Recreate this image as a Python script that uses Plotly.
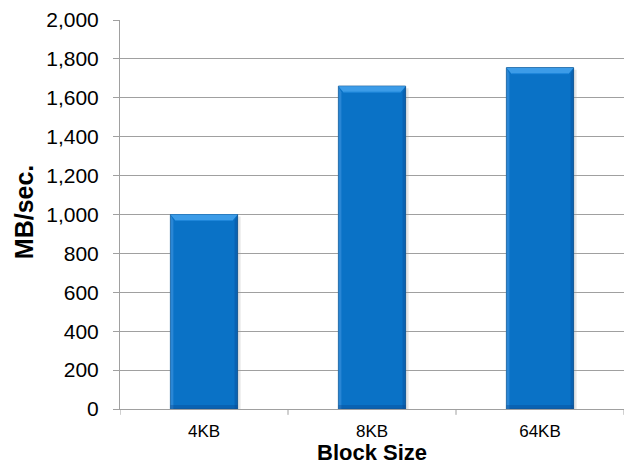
import plotly.graph_objects as go

block_sizes = ["4KB", "8KB", "64KB"]
throughput_mb_s = [1000, 1660, 1755]
y_tick_values = [0, 200, 400, 600, 800, 1000, 1200, 1400, 1600, 1800, 2000]

BAR_WIDTH = 0.4
Y_MAX = 2000
MARGIN = dict(l=120, r=18, t=20, b=57)
PLOT_H_PX = 466 - MARGIN["t"] - MARGIN["b"]
PLOT_W_PX = 642 - MARGIN["l"] - MARGIN["r"]
units_per_px_y = Y_MAX / PLOT_H_PX
units_per_px_x = 3 / PLOT_W_PX

fig = go.Figure()
fig.add_trace(go.Bar(
    x=list(range(len(block_sizes))),
    y=throughput_mb_s,
    width=BAR_WIDTH,
    marker=dict(color="#0A72C6", line=dict(color="#1A5E98", width=1)),
    hoverinfo="y",
))

# bevel highlights and soft drop shadow around each bar
for i, v in enumerate(throughput_mb_s):
    x0, x1 = i - BAR_WIDTH / 2, i + BAR_WIDTH / 2
    dx = 5 * units_per_px_x
    dy = 6 * units_per_px_y
    sx = 3 * units_per_px_x
    # shadow
    fig.add_shape(type="rect", xref="x", yref="y", layer="below",
                  x0=x0 + sx, x1=x1 + sx, y0=0, y1=v - 2 * units_per_px_y,
                  line=dict(width=0), fillcolor="rgba(0,0,0,0.10)")
    # top bevel
    fig.add_shape(type="path", xref="x", yref="y",
                  path=f"M {x0},{v} L {x1},{v} L {x1 - dx},{v - dy} L {x0 + dx},{v - dy} Z",
                  line=dict(width=0), fillcolor="#3C9CE8")
    fig.add_shape(type="line", xref="x", yref="y",
                  x0=x0 + dx, x1=x1 - dx, y0=v - dy, y1=v - dy,
                  line=dict(color="#1E86DA", width=1))
    # side bevels
    fig.add_shape(type="path", xref="x", yref="y",
                  path=f"M {x0},{v} L {x0 + dx * 0.6},{v - dy} L {x0 + dx * 0.6},{0} L {x0},{0} Z",
                  line=dict(width=0), fillcolor="rgba(80,160,230,0.45)")
    fig.add_shape(type="path", xref="x", yref="y",
                  path=f"M {x1},{v} L {x1 - dx * 0.6},{v - dy} L {x1 - dx * 0.6},{0} L {x1},{0} Z",
                  line=dict(width=0), fillcolor="rgba(10,70,140,0.35)")
    # darker base
    fig.add_shape(type="rect", xref="x", yref="y",
                  x0=x0, x1=x1, y0=0, y1=4 * units_per_px_y,
                  line=dict(width=0), fillcolor="rgba(10,70,140,0.35)")

fig.update_layout(
    width=642, height=466,
    margin=MARGIN,
    paper_bgcolor="white", plot_bgcolor="white",
    font=dict(family="Liberation Sans, Arial, sans-serif", color="#000000"),
    showlegend=False,
)
fig.update_xaxes(
    showline=True, linecolor="#A0A0A0", linewidth=1,
    tickvals=list(range(len(block_sizes))), ticktext=block_sizes,
    ticks="", tickfont=dict(size=17), ticklabelstandoff=7,
    range=[-0.5, 2.5], showgrid=False, zeroline=False, automargin=False,
)
fig.update_yaxes(
    range=[0, Y_MAX], tickvals=y_tick_values, tickformat=",",
    showline=True, linecolor="#A0A0A0", linewidth=1,
    ticks="outside", ticklen=6, tickcolor="#A0A0A0",
    showgrid=True, gridcolor="#A0A0A0", gridwidth=1,
    tickfont=dict(size=21), ticklabelstandoff=10,
    zeroline=False, automargin=False,
)

# axis titles
fig.add_annotation(text="<b>Block Size</b>", xref="paper", yref="paper",
                   x=0.5, y=-(452 - (MARGIN["t"] + PLOT_H_PX)) / PLOT_H_PX,
                   xanchor="center", yanchor="middle", showarrow=False,
                   font=dict(size=22), borderpad=0)
fig.add_annotation(text="<b>MB/sec.</b>", xref="paper", yref="paper",
                   x=(24 - MARGIN["l"]) / PLOT_W_PX, y=0.506, textangle=-90,
                   xanchor="center", yanchor="middle", showarrow=False,
                   font=dict(size=25), borderpad=0)

# category boundary ticks below the x axis
for b in [-0.5, 0.5, 1.5, 2.5]:
    fig.add_shape(type="line", xref="x", yref="paper", x0=b, x1=b, y0=0, y1=-0.015,
                  line=dict(color="#A0A0A0", width=1))

fig.write_html("out.html")
